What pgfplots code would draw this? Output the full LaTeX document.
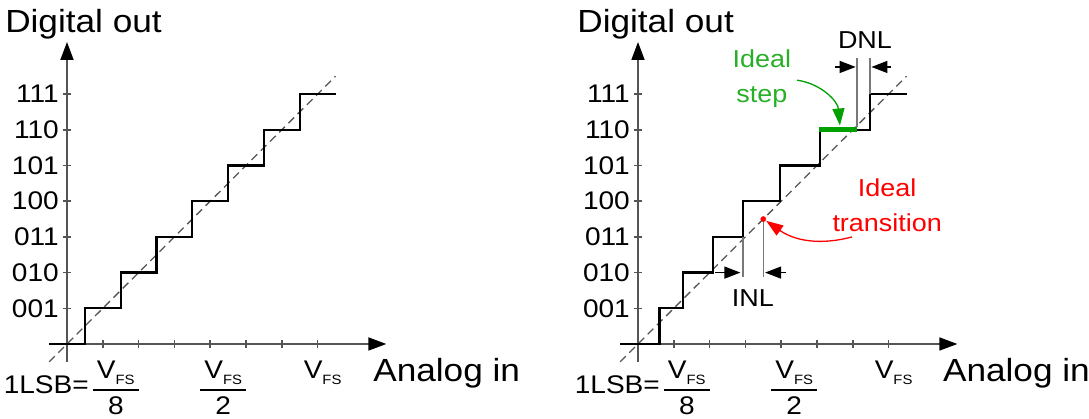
\documentclass[border=0pt]{standalone}
\usepackage{pgfplots}
\pgfplotsset{compat=1.18}
\usepackage{fontspec}
\setmainfont[FakeStretch=1.1]{Liberation Sans}
\usetikzlibrary{arrows.meta}
\definecolor{axgray}{RGB}{85,85,85}
\definecolor{lgray}{RGB}{120,120,120}
\definecolor{mygreen}{RGB}{0,160,0}
\definecolor{txtgreen}{RGB}{40,175,40}
\newcommand{\tlf}{\fontsize{25.5}{30}\selectfont}
\newcommand{\anf}{\fontsize{24.5}{35}\selectfont}
\newcommand{\vfs}{\hbox{\tlf V\raise-5.4pt\hbox{\fontsize{13.5}{15}\selectfont FS}}}
\newcommand{\fr}[1]{\vbox{\offinterlineskip\halign{\hfil##\hfil\cr \vfs\cr \noalign{\kern4.6pt} \rule{46pt}{1.8pt}\cr \noalign{\kern6pt} \tlf #1\cr}}}
\newcommand{\lsbfr}{\hbox{\kern26pt\llap{\raise20.5pt\hbox{\tlf 1LSB=}\kern4pt}\fr{8}}}
\newcommand{\halffr}{\hbox{\kern26pt\fr{2}}}
\newcommand{\fulllab}{\hbox{\kern10pt\vfs}}
\pgfplotsset{
  adc/.style={
    anchor=origin,
    x=35.8pt, y=35.7pt,
    xmin=-0.5, xmax=8.92, ymin=-0.5, ymax=8.46,
    axis lines=middle,
    clip=false,
    axis line style={axgray, line width=1.8pt, -{Triangle[length=18pt,width=13pt,color=black]}},
    tick align=center,
    major tick length=8pt,
    tick style={axgray, line width=1.5pt},
    xtick={1,...,7}, ytick={1,...,7},
    yticklabels={{\tlf 001},{\tlf 010},{\tlf 011},{\tlf 100},{\tlf 101},{\tlf 110},{\tlf 111}},
    xticklabels={{\lsbfr},,,{\halffr},,,{\fulllab}},
    tick label style={font=\tlf},
    xticklabel style={anchor=north, inner sep=0pt, yshift=-13pt},
    yticklabel style={anchor=east, inner sep=0pt, xshift=-4pt},
    label style={font=\fontsize{32}{38}\selectfont, inner sep=0pt, rotate=0},
    xlabel={Analog in},
    ylabel={Digital out},
    xlabel style={at={(axis description cs:0.9607,-0.0625)}, anchor=base west},
    ylabel style={at={(axis description cs:-0.1306,1.031)}, anchor=base west},
  }
}
\begin{document}
\begin{tikzpicture}
\useasboundingbox (0,0) rectangle (1089pt,419pt);
% ---------- left panel: ideal ADC ----------
\begin{axis}[adc, at={(67pt,75pt)}]
\addplot[color=axgray, line width=1.3pt, dash pattern=on 8pt off 5pt] coordinates {(-0.5,-0.5) (7.5,7.5)};
\addplot[black, line width=2.3pt] coordinates {
 (-0.5,0) (0.5,0) (0.5,1) (1.5,1) (1.5,2) (2.5,2) (2.5,3) (3.5,3) (3.5,4)
 (4.5,4) (4.5,5) (5.5,5) (5.5,6) (6.5,6) (6.5,7) (7.5,7)};
\end{axis}
% ---------- right panel: non-ideal ADC ----------
\begin{axis}[adc, at={(638pt,75pt)},
    xlabel style={at={(axis description cs:0.957,-0.0625)}},
    ylabel style={at={(axis description cs:-0.1274,1.031)}}]
\addplot[color=axgray, line width=1.3pt, dash pattern=on 8pt off 5pt] coordinates {(-0.5,-0.5) (7.5,7.5)};
\addplot[black, line width=2.3pt] coordinates {
 (-0.5,0) (0.6,0) (0.6,1) (1.26,1) (1.26,2) (2.09,2) (2.09,3) (2.93,3) (2.93,4)
 (3.97,4) (3.97,5) (5.08,5) (5.08,6) (6.48,6) (6.48,7) (7.5,7)};
% ideal step
\addplot[mygreen, line width=5pt] coordinates {(5.06,6) (6.12,6)};
% DNL
\addplot[lgray, line width=1.6pt] coordinates {(6.12,6.07) (6.12,8.0)};
\addplot[lgray, line width=1.6pt] coordinates {(6.48,7) (6.48,8.0)};
\addplot[black, line width=1.3pt, -{Triangle[length=16pt,width=12pt]}] coordinates {(5.5,7.76) (6.08,7.76)};
\addplot[black, line width=1.3pt, -{Triangle[length=16pt,width=12pt]}] coordinates {(7.06,7.76) (6.52,7.76)};
\node[font=\anf, inner sep=0pt] at (axis cs:6.34,8.52) {DNL};
% INL
\addplot[lgray, line width=1.6pt] coordinates {(3.5,3.45) (3.5,1.88)};
\addplot[lgray, line width=1.6pt] coordinates {(2.93,3) (2.93,1.88)};
\addplot[black, line width=1.3pt, -{Triangle[length=16pt,width=12pt]}] coordinates {(2.15,2) (2.86,2)};
\addplot[black, line width=1.3pt, -{Triangle[length=16pt,width=12pt]}] coordinates {(4.12,2) (3.55,2)};
\node[font=\anf, inner sep=0pt] at (axis cs:3.21,1.30) {INL};
% ideal transition
\addplot[only marks, mark=*, red, mark size=2.6pt] coordinates {(3.5,3.5)};
\node[red, font=\anf, inner sep=0pt, align=center] at (axis cs:6.96,3.89) {Ideal\\transition};
\draw[red, line width=1.3pt, -{Triangle[length=17pt,width=12pt]}] (axis cs:5.98,3.0) to[out=195,in=-35] (axis cs:3.58,3.45);
% ideal step label
\node[txtgreen, font=\anf, inner sep=0pt, align=center] at (axis cs:3.46,7.42) {Ideal\\step};
\draw[mygreen, line width=1.3pt, -{Triangle[length=17pt,width=12pt]}] (axis cs:4.44,7.39) to[out=-8,in=95] (axis cs:5.64,6.12);
\end{axis}
\end{tikzpicture}
\end{document}
